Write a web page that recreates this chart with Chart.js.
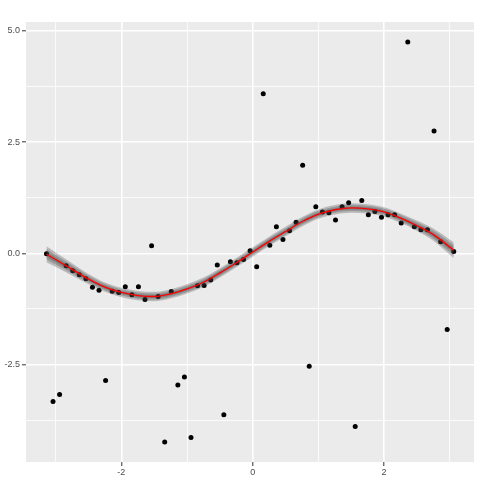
<!DOCTYPE html>
<html>
<head>
<meta charset="utf-8">
<script src="https://cdn.jsdelivr.net/npm/chart.js@4"></script>
<style>
  html, body { margin: 0; padding: 0; background: #fff; }
  #wrap { width: 480px; height: 480px; }
</style>
</head>
<body>
<div id="wrap"><canvas id="plot" width="480" height="480"></canvas></div>
<script>
// ── Data ─────────────────────────────────────────────────────────
const pointX = [-3.14,-3.04,-2.94,-2.84,-2.74,-2.64,-2.54,-2.44,-2.34,-2.24,-2.14,-2.04,-1.94,-1.84,-1.74,-1.64,
  -1.54,-1.44,-1.34,-1.24,-1.14,-1.04,-0.94,-0.84,-0.74,-0.64,-0.54,-0.44,-0.34,-0.24,-0.14,-0.04,
  0.06,0.16,0.26,0.36,0.46,0.56,0.66,0.76,0.86,0.96,1.06,1.16,1.26,1.36,1.46,1.56,
  1.66,1.76,1.86,1.96,2.06,2.16,2.26,2.36,2.46,2.56,2.66,2.76,2.86,2.96,3.06];
const pointY = [-0.01,-3.33,-3.17,-0.28,-0.39,-0.48,-0.57,-0.76,-0.83,-2.86,-0.85,-0.88,-0.75,-0.93,-0.75,-1.04,
  0.17,-0.97,-4.24,-0.86,-2.96,-2.78,-4.14,-0.73,-0.72,-0.60,-0.26,-3.63,-0.19,-0.21,-0.14,0.06,
  -0.30,3.59,0.18,0.60,0.31,0.51,0.70,1.98,-2.54,1.05,0.93,0.91,0.75,1.05,1.14,-3.89,
  1.19,0.87,0.94,0.81,0.87,0.87,0.68,4.75,0.60,0.53,0.53,2.75,0.26,-1.71,0.04];

// smoother fit + standard-error half width
const fitX  = [-3.14,-2.75,-2.5,-2.25,-2.0,-1.75,-1.5,-1.25,-1.0,-0.75,-0.5,-0.25,0,0.25,0.5,0.75,1.0,1.25,1.5,1.75,2.0,2.25,2.5,2.75,3.06];
const fitY  = [-0.02,-0.36,-0.58,-0.76,-0.88,-0.95,-0.97,-0.91,-0.80,-0.65,-0.44,-0.21,0.03,0.27,0.49,0.71,0.88,0.98,1.02,1.00,0.93,0.79,0.62,0.42,0.07];
const fitSE = [0.17,0.13,0.11,0.10,0.10,0.10,0.10,0.10,0.10,0.10,0.10,0.10,0.10,0.10,0.10,0.10,0.10,0.10,0.10,0.10,0.10,0.10,0.11,0.13,0.17];

const xTicks = [-3, -2, -1, 0, 1, 2, 3];
const xMajor = [-2, 0, 2];
const yTicks = [-3.75, -2.5, -1.25, 0, 1.25, 2.5, 3.75, 5.0];
const yMajor = [-2.5, 0, 2.5, 5.0];

// ── Build datasets ───────────────────────────────────────────────
const pts = pointX.map((x, i) => ({ x, y: pointY[i] }));
const fit = fitX.map((x, i) => ({ x, y: fitY[i] }));
const band = k => ({
  hi: fitX.map((x, i) => ({ x, y: fitY[i] + fitSE[i] * k })),
  lo: fitX.map((x, i) => ({ x, y: fitY[i] - fitSE[i] * k }))
});

const smoothLine = { type: 'line', pointRadius: 0, borderWidth: 0, cubicInterpolationMode: 'monotone' };
const bandSets = [];
[1.05, 0.7, 0.35].forEach(k => {
  const b = band(k);
  bandSets.push({ ...smoothLine, data: b.hi, fill: false, order: 1 });
  bandSets.push({ ...smoothLine, data: b.lo, fill: '-1', backgroundColor: 'rgba(60,60,60,0.28)', order: 1 });
});

const panelBg = {
  id: 'panelBg',
  beforeDraw(chart) {
    const { ctx, chartArea: a } = chart;
    ctx.save();
    ctx.fillStyle = '#EBEBEB';
    ctx.fillRect(a.left, a.top, a.right - a.left, a.bottom - a.top);
    ctx.restore();
  }
};

const tickFont = { family: 'Liberation Sans, Arial, sans-serif', size: 9 };

new Chart(document.getElementById('plot'), {
  type: 'scatter',
  data: {
    datasets: [
      { ...smoothLine, data: fit, borderColor: '#FF0000', borderWidth: 1.3, fill: false, order: 0 },
      ...bandSets,
      { type: 'scatter', data: pts, backgroundColor: '#000', borderWidth: 0, pointRadius: 2.5, order: 2 }
    ]
  },
  options: {
    responsive: false,
    animation: false,
    layout: { padding: { top: 22, right: 6, left: 0, bottom: 0 } },
    plugins: { legend: { display: false }, tooltip: { enabled: false } },
    scales: {
      x: {
        type: 'linear', min: -3.4516, max: 3.3684,
        afterBuildTicks: s => { s.ticks = xTicks.map(v => ({ value: v })); },
        afterFit: s => { s.height = 18; },
        border: { display: false },
        grid: {
          color: '#FFFFFF',
          lineWidth: c => xMajor.includes(c.tick.value) ? 1.6 : 0.8,
          tickColor: c => xMajor.includes(c.tick.value) ? '#333333' : 'rgba(0,0,0,0)',
          tickLength: 4, tickWidth: 1
        },
        ticks: {
          autoSkip: false, maxRotation: 0, padding: 1, color: '#4D4D4D', font: tickFont,
          callback: v => xMajor.includes(v) ? String(v) : ''
        }
      },
      y: {
        type: 'linear', min: -4.69, max: 5.20,
        afterBuildTicks: s => { s.ticks = yTicks.map(v => ({ value: v })); },
        afterFit: s => { s.width = 26; },
        border: { display: false },
        grid: {
          color: '#FFFFFF',
          lineWidth: c => yMajor.includes(c.tick.value) ? 1.6 : 0.8,
          tickColor: c => yMajor.includes(c.tick.value) ? '#333333' : 'rgba(0,0,0,0)',
          tickLength: 4, tickWidth: 1
        },
        ticks: {
          autoSkip: false, padding: 2, color: '#4D4D4D', font: tickFont,
          callback: v => yMajor.includes(v) ? v.toFixed(1) : ''
        }
      }
    }
  },
  plugins: [panelBg]
});
</script>
</body>
</html>
